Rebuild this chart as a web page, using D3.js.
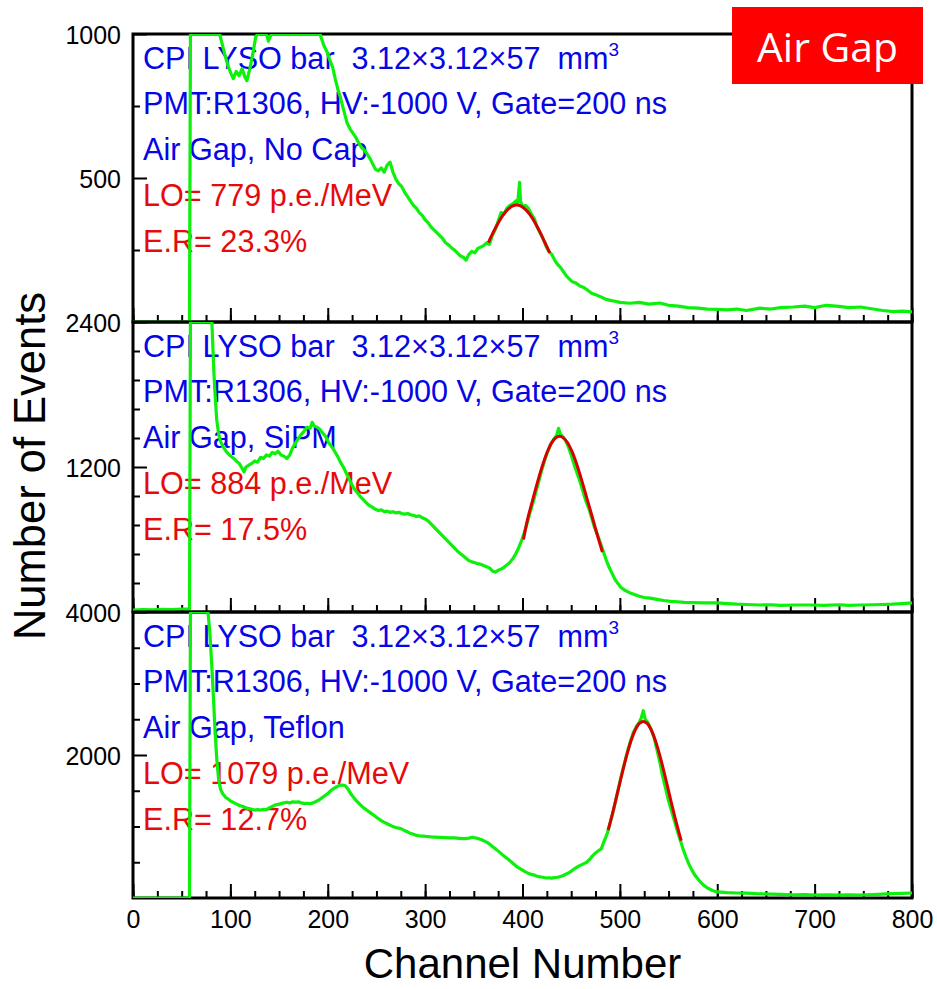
<!DOCTYPE html>
<html><head><meta charset="utf-8">
<script src="https://cdn.jsdelivr.net/npm/d3@7"></script>
<style>
body{margin:0;background:#fff}
svg text{font-family:"Liberation Sans",Arial,Helvetica,sans-serif;white-space:pre}
</style>
</head><body>
<svg id="chart" width="937" height="989"></svg>
<script>
// ---------------- data ----------------
const xMajorTicks = [0,100,200,300,400,500,600,700,800];
const xMinorTicks = d3.range(0, 801, 25);
const yMaxima = [1000, 2400, 4000];
const yLabelTicks = [[500,1000],[1200,2400],[2000,4000]];
const yMinorTicks = [[250,750],[240,480,720,960,1440,1680,1920,2160],[500,1000,1500,2500,3000,3500]];
const crystalLine = "CPI LYSO bar  3.12\u00D73.12\u00D757  mm";
const pmtLine = "PMT:R1306, HV:-1000 V, Gate=200 ns";
const wrapNames = ["Air Gap, No Cap", "Air Gap, SiPM", "Air Gap, Teflon"];
const loValues = ["779", "884", "1079"];
const erValues = ["23.3%", "17.5%", "12.7%"];

const spectrumNoCap = [[0,0],[20,0],[40,0],[58,0],[59,1000],[89,1000],[92,960],[95,920],[98,885],[101,860],[103,845],[106,870],[109,855],[112,880],[115,850],[117,838],[120,880],[123,930],[126,990],[128,1000],[137,1000],[139,975],[142,1000],[192,1000],[196,960],[199,940],[202,910],[205,885],[208,840],[211,800],[213,780],[216,740],[218,715],[220,690],[223,670],[226,655],[229,640],[232,620],[235,605],[238,595],[240,585],[243,570],[246,550],[249,530],[252,525],[255,535],[258,520],[261,545],[264,555],[267,520],[270,495],[273,480],[276,470],[279,450],[282,435],[285,420],[288,405],[291,395],[294,380],[297,370],[300,355],[303,345],[306,330],[309,320],[312,310],[315,300],[318,290],[321,275],[324,268],[327,258],[330,250],[333,240],[336,230],[339,225],[342,215],[345,235],[348,245],[351,240],[354,255],[357,260],[360,265],[363,275],[366,270],[369,300],[372,320],[375,350],[378,380],[381,375],[384,395],[387,405],[390,410],[393,420],[395,410],[397,485],[398,420],[400,400],[403,405],[406,395],[409,375],[412,360],[415,330],[418,310],[421,290],[424,265],[427,245],[430,235],[433,215],[436,200],[439,190],[442,175],[445,160],[448,150],[451,140],[455,135],[459,125],[463,120],[467,110],[471,100],[475,95],[480,88],[485,80],[490,75],[495,72],[500,68],[510,65],[520,68],[530,62],[541,66],[550,58],[560,55],[570,50],[580,48],[590,45],[600,44],[610,42],[620,45],[630,40],[644,48],[655,45],[665,50],[678,52],[690,55],[700,50],[712,58],[725,54],[735,50],[747,52],[760,45],[770,40],[781,36],[790,38],[800,35]];

const spectrumSiPM = [[0,15],[10,20],[20,18],[30,22],[40,20],[50,25],[58,25],[59,2400],[81,2400],[83,2000],[84,1840],[86,1590],[88,1470],[90,1410],[93,1360],[96,1325],[99,1300],[103,1275],[106,1250],[109,1230],[112,1190],[114,1160],[116,1200],[119,1215],[122,1230],[125,1250],[128,1240],[131,1280],[134,1270],[137,1300],[140,1290],[143,1320],[146,1310],[149,1330],[152,1300],[155,1290],[158,1270],[161,1300],[164,1360],[167,1400],[170,1440],[173,1470],[176,1500],[179,1530],[182,1520],[184,1570],[186,1540],[189,1530],[192,1510],[195,1480],[198,1450],[201,1400],[204,1370],[207,1330],[210,1290],[213,1240],[216,1200],[219,1150],[222,1100],[225,1050],[228,1010],[231,980],[234,950],[237,925],[240,900],[243,880],[246,865],[249,850],[252,840],[255,845],[258,830],[261,835],[264,825],[267,830],[270,820],[273,825],[276,815],[279,810],[282,815],[285,805],[288,800],[291,790],[294,795],[297,780],[300,770],[303,755],[306,730],[309,705],[312,680],[315,655],[318,630],[321,605],[324,580],[327,555],[330,530],[333,505],[336,485],[339,465],[342,445],[345,425],[348,415],[351,408],[354,400],[357,395],[360,385],[363,375],[366,365],[369,340],[372,330],[375,345],[378,355],[381,370],[384,390],[387,410],[390,440],[393,480],[396,530],[399,590],[402,660],[405,740],[408,830],[411,910],[414,1000],[417,1090],[420,1180],[423,1260],[426,1330],[429,1390],[432,1430],[435,1460],[437,1520],[439,1470],[441,1455],[444,1420],[447,1370],[450,1300],[453,1220],[456,1150],[459,1080],[462,1000],[465,920],[468,860],[471,780],[474,700],[477,640],[480,570],[483,500],[486,430],[489,370],[492,320],[495,270],[498,235],[501,205],[505,180],[510,160],[515,145],[520,130],[525,120],[531,115],[538,105],[545,95],[552,88],[559,85],[566,80],[575,78],[585,75],[600,75],[610,70],[620,65],[630,62],[644,58],[655,60],[665,55],[680,58],[695,58],[710,55],[725,60],[735,55],[747,58],[760,60],[770,62],[780,65],[790,70],[800,75]];

const spectrumTeflon = [[0,0],[20,0],[40,0],[58,0],[59,4000],[77,4000],[79,3700],[81,3230],[83,2700],[84,2400],[86,1950],[88,1650],[90,1520],[92,1460],[95,1410],[98,1380],[101,1350],[104,1330],[107,1310],[110,1290],[113,1280],[116,1260],[119,1250],[122,1240],[125,1230],[128,1235],[131,1230],[134,1240],[137,1235],[140,1260],[143,1280],[146,1300],[149,1310],[152,1320],[155,1330],[158,1340],[161,1330],[164,1345],[167,1340],[170,1345],[173,1330],[176,1320],[179,1325],[182,1320],[185,1330],[188,1350],[191,1370],[194,1400],[197,1430],[200,1460],[203,1500],[206,1530],[209,1555],[212,1575],[215,1580],[218,1570],[221,1520],[224,1450],[227,1400],[230,1350],[233,1310],[236,1270],[239,1240],[242,1210],[245,1180],[248,1150],[251,1120],[254,1090],[257,1065],[260,1045],[263,1025],[266,1005],[269,990],[272,980],[275,970],[278,950],[281,930],[284,910],[287,895],[290,880],[294,870],[298,865],[302,860],[306,855],[310,852],[315,848],[320,845],[325,842],[330,840],[335,835],[340,830],[345,838],[349,850],[352,840],[355,830],[358,815],[361,795],[364,775],[367,745],[370,710],[373,680],[376,645],[379,610],[382,575],[385,545],[388,510],[391,475],[394,440],[397,415],[400,390],[403,365],[406,345],[409,330],[412,320],[415,305],[418,295],[421,290],[424,280],[427,282],[430,278],[433,285],[436,290],[439,300],[442,315],[445,335],[448,355],[451,385],[454,415],[457,440],[460,460],[463,480],[466,500],[469,540],[472,590],[475,630],[478,660],[481,690],[484,800],[487,900],[490,1050],[493,1200],[496,1380],[499,1560],[502,1740],[505,1900],[508,2060],[511,2200],[514,2320],[517,2400],[520,2460],[522,2520],[524,2620],[526,2500],[529,2450],[532,2360],[535,2250],[538,2080],[541,1900],[544,1700],[547,1530],[550,1360],[553,1220],[556,1080],[559,940],[562,810],[565,680],[568,570],[571,470],[574,390],[577,320],[580,270],[583,220],[586,180],[590,140],[595,105],[600,85],[610,75],[620,70],[630,68],[640,60],[655,55],[665,50],[678,45],[690,48],[700,42],[712,45],[725,40],[735,45],[747,42],[760,48],[770,55],[780,60],[790,65],[800,70]];

const fitNoCap = [[365,276],[370,312],[375,344],[380,371],[385,391],[390,403],[394,406],[398,403],[403,391],[408,371],[413,344],[418,312],[423,276],[428,240]];
const fitSiPM = [[401,600],[405,761],[410,913],[415,1062],[420,1200],[425,1316],[430,1401],[434,1441],[438,1455],[442,1441],[446,1405],[451,1325],[456,1215],[461,1085],[466,945],[471,805],[476,660],[482,497]];
const fitTeflon = [[488,950],[492,1159],[496,1383],[500,1613],[504,1837],[508,2044],[512,2220],[516,2356],[520,2441],[524,2470],[528,2441],[532,2356],[536,2220],[540,2044],[544,1837],[548,1613],[552,1383],[556,1159],[560,950],[563,802]];

const spectra = [spectrumNoCap, spectrumSiPM, spectrumTeflon];
const fits = [fitNoCap, fitSiPM, fitTeflon];

// ---------------- layout ----------------
const plotLeft = 133, plotRight = 912;
const panelTops = [34, 322, 612];
const panelBottoms = [322, 612, 898];
const blue = "#0505e6", red = "#e60a0a", green = "#0cf00c";
const annSize = 30.6;

const svg = d3.select("#chart");
const x = d3.scaleLinear().domain([0, 800]).range([plotLeft, plotRight]);

const line = (y) => d3.line().x(d => x(d[0])).y(d => y(d[1]));

panelTops.forEach((top, i) => {
  const bottom = panelBottoms[i];
  const y = d3.scaleLinear().domain([0, yMaxima[i]]).range([bottom, top]);
  const g = svg.append("g");

  const cid = "clip" + i;
  svg.append("clipPath").attr("id", cid).append("rect")
    .attr("x", plotLeft).attr("y", top).attr("width", plotRight - plotLeft).attr("height", bottom - top);

  g.append("g").attr("transform", `translate(${plotLeft},0)`)
    .call(d3.axisLeft(y).tickValues(yMinorTicks[i]).tickSize(-7).tickFormat(""))
    .call(a => a.select(".domain").remove())
    .call(a => a.selectAll("line").attr("stroke", "#000").attr("stroke-width", 2));
  g.append("g").attr("transform", `translate(${plotLeft},0)`)
    .call(d3.axisLeft(y).tickValues(yLabelTicks[i]).tickSize(-14).tickPadding(12).tickFormat(d3.format("d")))
    .call(a => a.select(".domain").remove())
    .call(a => a.selectAll("line").attr("stroke", "#000").attr("stroke-width", 2))
    .call(a => a.selectAll("text").attr("font-size", 25).attr("fill", "#000")
      .attr("font-family", "'Liberation Sans',Arial,sans-serif").attr("dy", "0.38em"));

  g.append("g").attr("transform", `translate(0,${bottom})`)
    .call(d3.axisBottom(x).tickValues(xMinorTicks).tickSize(-7).tickFormat(""))
    .call(a => a.select(".domain").remove())
    .call(a => a.selectAll("line").attr("stroke", "#000").attr("stroke-width", 2));
  g.append("g").attr("transform", `translate(0,${bottom})`)
    .call(d3.axisBottom(x).tickValues(xMajorTicks).tickSize(-14).tickPadding(12)
      .tickFormat(i === 2 ? d3.format("d") : ""))
    .call(a => a.select(".domain").remove())
    .call(a => a.selectAll("line").attr("stroke", "#000").attr("stroke-width", 2))
    .call(a => a.selectAll("text").attr("font-size", 25).attr("fill", "#000")
      .attr("font-family", "'Liberation Sans',Arial,sans-serif"));

  g.append("rect").attr("x", plotLeft).attr("y", top)
    .attr("width", plotRight - plotLeft).attr("height", bottom - top)
    .attr("fill", "none").attr("stroke", "#000").attr("stroke-width", 3);

  const tx = 143;
  const offs = [35, 80, 126, 172, 218];
  const t1 = g.append("text").attr("x", tx).attr("y", top + offs[0]).attr("font-size", annSize).attr("fill", blue);
  t1.append("tspan").text(crystalLine);
  t1.append("tspan").attr("font-size", 19).attr("dy", -13).text("3");
  g.append("text").attr("x", tx).attr("y", top + offs[1]).attr("font-size", annSize).attr("fill", blue).text(pmtLine);
  g.append("text").attr("x", tx).attr("y", top + offs[2]).attr("font-size", annSize).attr("fill", blue).text(wrapNames[i]);
  g.append("text").attr("x", tx).attr("y", top + offs[3]).attr("font-size", annSize).attr("fill", red).text(`LO= ${loValues[i]} p.e./MeV`);
  g.append("text").attr("x", tx).attr("y", top + offs[4]).attr("font-size", annSize).attr("fill", red).text(`E.R= ${erValues[i]}`);

  const cg = g.append("g").attr("clip-path", `url(#${cid})`);
  cg.append("path").datum(spectra[i]).attr("d", line(y))
    .attr("fill", "none").attr("stroke", green).attr("stroke-width", 3.2).attr("stroke-linejoin", "round");
  cg.append("path").datum(fits[i]).attr("d", line(y).curve(d3.curveCatmullRom))
    .attr("fill", "none").attr("stroke", "#d80000").attr("stroke-width", 3);
});

svg.append("text").attr("x", (plotLeft + plotRight) / 2).attr("y", 978)
  .attr("text-anchor", "middle").attr("font-size", 42).attr("fill", "#000").text("Channel Number");
svg.append("text").attr("transform", "translate(45,466) rotate(-90)")
  .attr("text-anchor", "middle").attr("font-size", 43.5).attr("fill", "#000").text("Number of Events");

svg.append("rect").attr("x", 732).attr("y", 7).attr("width", 191).attr("height", 77).attr("fill", "#ff0000");
svg.append("text").attr("x", 757).attr("y", 62).attr("font-size", 41)
  .attr("fill", "#fff").style("font-family", "'Open Sans','Noto Sans',sans-serif")
  .attr("textLength", 141).attr("lengthAdjust", "spacingAndGlyphs").text("Air Gap");
</script>
</body></html>
